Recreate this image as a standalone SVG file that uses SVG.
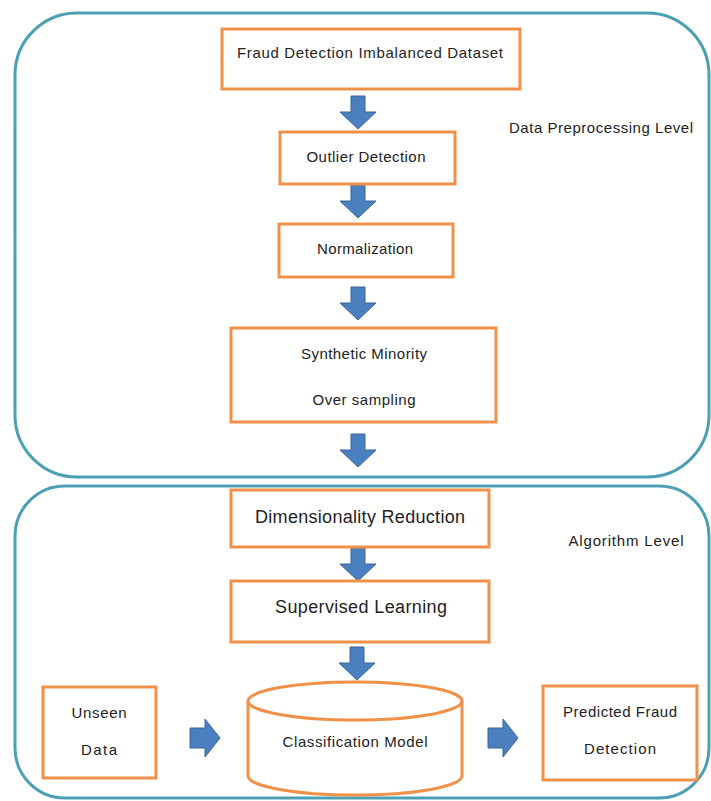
<svg xmlns="http://www.w3.org/2000/svg" xmlns:xlink="http://www.w3.org/1999/xlink" width="711" height="801" viewBox="0 0 711 801">
<style>
.cont{fill:none;stroke:#4d9fb3;stroke-width:3}
.box{fill:#ffffff;stroke:#f0914a;stroke-width:3}
.arr{fill:#4a7fc0;stroke:#3a6598;stroke-width:1}
.t{font-family:"Liberation Sans",Arial,sans-serif;font-size:15px;fill:#222;text-anchor:middle}
.tb{font-family:"Liberation Sans",Arial,sans-serif;font-size:18px;fill:#222;text-anchor:middle}
</style>
<defs>
<path id="down" d="M-7,0 H7 V16 H18 L0,33 L-18,16 H-7 Z"/>
<path id="right" d="M0,-10 H15 V-19 L30,0 L15,19 V10 H0 Z"/>
</defs>
<rect width="711" height="801" fill="#ffffff"/>
<g id="containers">
<rect id="preprocessing-level" class="cont" x="15" y="13" width="694" height="464" rx="62" ry="62"/>
<rect id="algorithm-level" class="cont" x="15" y="486" width="694" height="312" rx="50" ry="50"/>
</g>
<g id="labels">
<text class="t" x="601" y="133" textLength="184">Data Preprocessing Level</text>
<text class="t" x="626" y="546" textLength="115">Algorithm Level</text>
</g>
<g id="connectors">
<use xlink:href="#down" class="arr" x="358" y="96"/>
<use xlink:href="#down" class="arr" x="358" y="185"/>
<use xlink:href="#down" class="arr" x="358" y="287"/>
<use xlink:href="#down" class="arr" x="358" y="434"/>
<use xlink:href="#down" class="arr" x="358" y="548"/>
<use xlink:href="#down" class="arr" x="357" y="647"/>
<use xlink:href="#right" class="arr" x="190" y="738"/>
<use xlink:href="#right" class="arr" x="488" y="738"/>
</g>
<g id="n-dataset">
<rect class="box" x="222" y="29" width="298" height="60"/>
<text class="t" x="370" y="58" textLength="266">Fraud Detection Imbalanced Dataset</text>
</g>
<g id="n-outlier">
<rect class="box" x="280" y="132" width="175" height="52"/>
<text class="t" x="366" y="162" textLength="119">Outlier Detection</text>
</g>
<g id="n-normalization">
<rect class="box" x="279" y="224" width="174" height="53"/>
<text class="t" x="365" y="254" textLength="96">Normalization</text>
</g>
<g id="n-smote">
<rect class="box" x="231" y="328" width="265" height="94"/>
<text class="t" x="364" y="359" textLength="126">Synthetic Minority</text>
<text class="t" x="364" y="405" textLength="103">Over sampling</text>
</g>
<g id="n-dimred">
<rect class="box" x="231" y="490" width="258" height="57"/>
<text class="tb" x="360" y="523" textLength="210">Dimensionality Reduction</text>
</g>
<g id="n-supervised">
<rect class="box" x="231" y="581" width="258" height="61"/>
<text class="tb" x="361" y="613" textLength="172">Supervised Learning</text>
</g>
<g id="n-unseen">
<rect class="box" x="43" y="687" width="113" height="91"/>
<text class="t" x="99" y="718" textLength="55">Unseen</text>
<text class="t" x="99" y="755" textLength="36">Data</text>
</g>
<g id="n-model">
<path class="box" d="M248,701 V776 A107,19 0 0 0 462,776 V701 A107,19 0 0 0 248,701 Z"/>
<path class="box" d="M248,701 A107,19 0 0 0 462,701" fill="none"/>
<text class="t" x="355" y="747" textLength="145">Classification Model</text>
</g>
<g id="n-predicted">
<rect class="box" x="543" y="686" width="154" height="94"/>
<text class="t" x="620" y="717" textLength="114">Predicted Fraud</text>
<text class="t" x="620" y="754" textLength="72">Detection</text>
</g>
</svg>
